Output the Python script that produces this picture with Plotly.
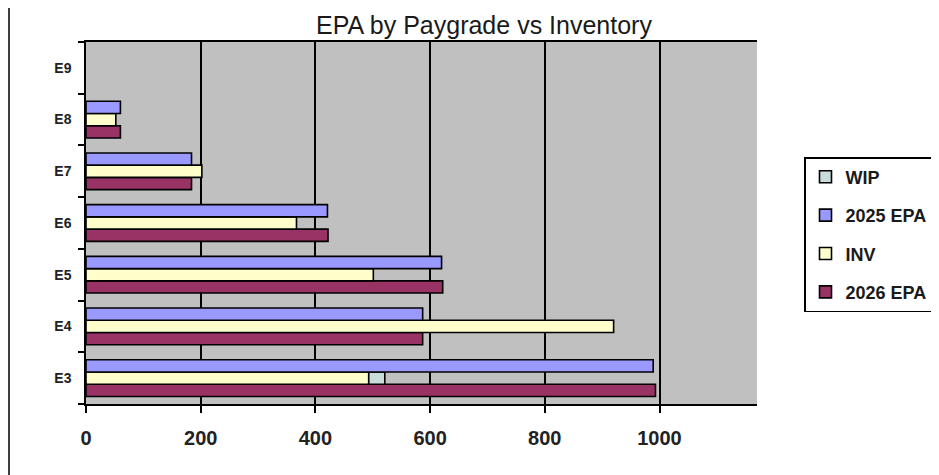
import plotly.graph_objects as go

categories = ["E3", "E4", "E5", "E6", "E7", "E8", "E9"]
epa_2025 = [989, 587, 620, 421, 184, 60, None]
inv = [493, 920, 501, 367, 202, 52, None]
wip = [28, None, None, None, None, None, None]
epa_2026 = [993, 587, 622, 422, 184, 60, None]
x_ticks = [0, 200, 400, 600, 800, 1000]

FONT = "Arial, Liberation Sans, sans-serif"
line = dict(color="black", width=1.6)

W, H = 939, 475
OFF = 8  # default page margin of the browser body
L, R, T, B = 86 - OFF, 182 + OFF, 42 - OFF, 71 + OFF
PW, PH = W - L - R, H - T - B


def px_x(x):
    return (x - OFF - L) / PW


def px_y(y):
    return (H - B - (y - OFF)) / PH


fig = go.Figure()
fig.add_trace(go.Bar(y=categories, x=epa_2026, name="2026 EPA", orientation="h",
                     offsetgroup="a", marker=dict(color="#993366", line=line),
                     legendgroup="d", legendrank=4))
fig.add_trace(go.Bar(y=categories, x=inv, name="INV", orientation="h",
                     offsetgroup="b", marker=dict(color="#FFFFCC", line=line),
                     legendgroup="c", legendrank=3))
fig.add_trace(go.Bar(y=categories, x=wip, base=inv, name="WIP", orientation="h",
                     offsetgroup="b", marker=dict(color="#C8DCDC", line=line),
                     legendgroup="a", legendrank=1))
fig.add_trace(go.Bar(y=categories, x=epa_2025, name="2025 EPA", orientation="h",
                     offsetgroup="c", marker=dict(color="#9999FF", line=line),
                     legendgroup="b", legendrank=2))

fig.update_layout(
    width=W, height=H,
    margin=dict(l=L, r=R, t=T, b=B),
    paper_bgcolor="white",
    plot_bgcolor="#C0C0C0",
    barmode="group",
    bargap=0.29,
    bargroupgap=0,
    font=dict(family=FONT, color="black"),
    title=dict(text="EPA by Paygrade vs Inventory", x=(484 - OFF) / W, xanchor="center",
               y=1 - (25 - OFF) / H, yanchor="middle",
               font=dict(family=FONT, size=25, color="#1a1a1a")),
    showlegend=True,
    legend=dict(x=px_x(804), xanchor="left", y=px_y(157), yanchor="top",
                bgcolor="white", bordercolor="black", borderwidth=1.5,
                font=dict(family=FONT, size=18, color="#1a1a1a", weight="bold"),
                traceorder="grouped", tracegroupgap=12, itemwidth=30),
    shapes=[dict(type="line", xref="paper", yref="paper",
                 x0=px_x(9), x1=px_x(9), y0=px_y(H + 20), y1=px_y(0),
                 line=dict(color="black", width=1.5))],
)
fig.update_xaxes(range=[0, 1170], tickvals=x_ticks, ticktext=[str(v) for v in x_ticks],
                 showgrid=True, gridcolor="black", gridwidth=1.5,
                 showline=True, linecolor="black", linewidth=1.5, mirror=True,
                 ticks="outside", ticklen=7, tickwidth=1.5, tickcolor="black",
                 zeroline=False, automargin=False, ticklabelstandoff=8,
                 tickfont=dict(family=FONT, size=20, color="#222222", weight="bold"))
fig.update_yaxes(categoryorder="array", categoryarray=categories,
                 showgrid=False, showline=True, linecolor="black", linewidth=1.5,
                 ticks="outside", tickson="boundaries", ticklen=6, tickwidth=1.5,
                 tickcolor="black", ticklabelstandoff=10, automargin=False,
                 tickfont=dict(family=FONT, size=14, color="#222222", weight="bold"))

fig.write_html("out.html", config={"displayModeBar": False})
